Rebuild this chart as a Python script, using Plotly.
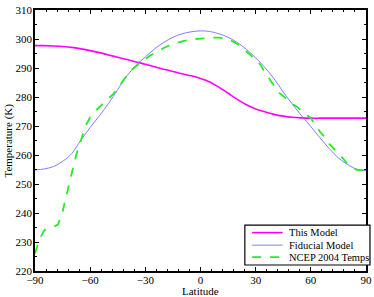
import plotly.graph_objects as go

# ---- data ----
lat5 = [-90, -85, -80, -75, -70, -65, -60, -55, -50, -45, -40, -35, -30, -25, -20, -15, -10, -5,
        0, 5, 10, 15, 20, 25, 30, 35, 40, 45, 50, 55, 60, 65, 70, 75, 80, 85, 90]

this_model = [297.7, 297.7, 297.6, 297.4, 297.1, 296.6, 296.0, 295.3, 294.5, 293.7, 292.9, 292.1,
              291.3, 290.4, 289.6, 288.8, 288.0, 287.3, 286.4, 285.2, 283.4, 281.3, 279.2, 277.3,
              275.9, 274.9, 274.0, 273.4, 273.0, 272.8, 272.7, 272.7, 272.7, 272.7, 272.7, 272.7, 272.7]

fiducial = [254.8, 255.2, 256.0, 257.8, 260.5, 265.2, 269.5, 273.5, 277.8, 282.6, 287.3, 290.9,
            293.8, 296.6, 298.8, 300.6, 301.8, 302.5, 302.8, 302.6, 301.8, 300.6, 298.8, 296.4,
            293.5, 290.2, 286.3, 281.7, 277.5, 273.5, 269.8, 265.9, 262.2, 259.0, 256.7, 255.1, 254.6]

lat_ncep = [-90, -87.5, -85, -82.5, -80, -77.5, -75, -72.5, -70, -67.5, -65, -62.5, -60, -57.5, -55,
            -52.5, -50, -47.5, -45, -42.5, -40, -37.5, -35, -32.5, -30, -27.5, -25, -22.5, -20,
            -17.5, -15, -12.5, -10, -7.5, -5, -2.5, 0, 2.5, 5, 7.5, 10, 12.5, 15, 17.5, 20, 22.5,
            25, 27.5, 30, 32.5, 35, 37.5, 40, 42.5, 45, 47.5, 50, 52.5, 55, 57.5, 60, 62.5, 65,
            67.5, 70, 72.5, 75, 77.5, 80, 82.5, 85, 87.5, 90]

ncep = [226.0, 231.0, 234.0, 235.0, 235.2, 236.0, 240.5, 247.5, 253.8, 260.2, 265.0, 270.0, 273.0,
        275.0, 276.5, 278.0, 279.3, 281.0, 283.0, 285.3, 287.5, 289.3, 290.8, 292.0, 293.0, 294.3,
        295.0, 296.0, 296.9, 297.6, 298.2, 298.8, 299.2, 299.5, 299.8, 300.0, 300.1, 300.3, 300.4,
        300.5, 300.5, 300.3, 299.9, 299.2, 298.3, 297.1, 295.8, 294.3, 292.8, 291.2, 288.5, 286.3,
        284.0, 281.6, 280.3, 278.8, 277.6, 276.6, 275.3, 274.2, 272.7, 270.5, 268.0, 266.2, 263.8,
        262.2, 260.7, 258.8, 256.9, 255.7, 254.9, 254.8, 254.9]

series_names = ["This Model", "Fiducial Model", "NCEP 2004 Temps"]
x_ticks = [-90, -60, -30, 0, 30, 60, 90]
y_ticks = [220, 230, 240, 250, 260, 270, 280, 290, 300, 310]

FONT = "Liberation Serif"
styles = [dict(color="#ff00ff", width=1.6, shape="spline"),
          dict(color="#7070ff", width=0.9, shape="spline"),
          dict(color="#22ee22", width=1.8, dash="dash")]

fig = go.Figure()
fig.add_trace(go.Scatter(x=lat5, y=this_model, mode="lines", name=series_names[0], line=styles[0]))
fig.add_trace(go.Scatter(x=lat5, y=fiducial, mode="lines", name=series_names[1], line=styles[1]))
fig.add_trace(go.Scatter(x=lat_ncep, y=ncep, mode="lines", name=series_names[2], line=styles[2]))

axis_common = dict(showline=True, linecolor="black", linewidth=1.6, mirror="allticks",
                   ticks="inside", ticklen=4, tickwidth=1, tickcolor="black",
                   showgrid=False, zeroline=False,
                   tickfont=dict(family=FONT, size=11, color="black"))

fig.update_layout(
    width=374, height=297,
    margin=dict(l=35, r=8, t=10, b=26, autoexpand=False),
    paper_bgcolor="white", plot_bgcolor="white",
    font=dict(family=FONT, size=11, color="black"),
    xaxis=dict(range=[-90, 90], tickvals=x_ticks,
               ticktext=[f"{v}".replace("-", "\u2212") for v in x_ticks],
               ticklabelstandoff=-2,
               minor=dict(dtick=6, tick0=-90, ticks="inside", ticklen=2, tickcolor="black"),
               **axis_common),
    yaxis=dict(range=[220, 310], tickvals=y_ticks, ticklabelstandoff=-1,
               minor=dict(dtick=5, tick0=220, ticks="inside", ticklen=2, tickcolor="black"),
               **axis_common),
    showlegend=False,
)

# axis titles
fig.add_annotation(text="Latitude", xref="paper", yref="paper", x=0.5, y=-0.075,
                   xanchor="center", yanchor="middle", showarrow=False,
                   font=dict(family=FONT, size=11, color="black"))
fig.add_annotation(text="Temperature (K)", xref="paper", yref="paper", x=-0.0815, y=0.5,
                   xanchor="center", yanchor="middle", textangle=-90, showarrow=False,
                   font=dict(family=FONT, size=11, color="black"))

# legend box (drawn manually to match compact layout)
fig.add_shape(type="rect", xref="paper", yref="paper", x0=0.634, x1=1.012, y0=0.023, y1=0.176,
              line=dict(color="black", width=1.2), fillcolor="white", layer="above")
row_y = [0.147, 0.099, 0.053]
for name, st, yy in zip(series_names, styles, row_y):
    fig.add_shape(type="line", xref="paper", yref="paper", x0=0.656, x1=0.748, y0=yy, y1=yy,
                  line=dict(color=st["color"], width=st["width"], dash=st.get("dash", "solid")),
                  layer="above")
    fig.add_annotation(text=name, xref="paper", yref="paper", x=0.762, y=yy,
                       xanchor="left", yanchor="middle", showarrow=False,
                       font=dict(family=FONT, size=10.5, color="black"))

fig.write_html("out.html", config={"displayModeBar": False},
               post_script="document.body.style.margin='0px';")
